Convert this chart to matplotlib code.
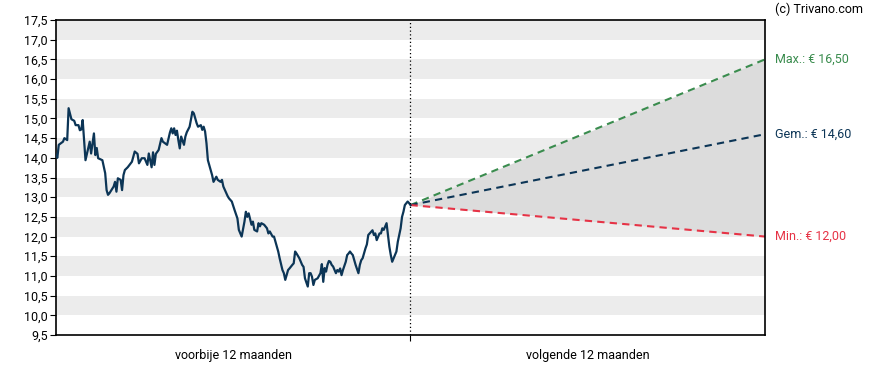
import matplotlib
matplotlib.use("Agg")
import matplotlib.pyplot as plt
import matplotlib.transforms as mtransforms


# ====================================
# Data
# ====================================

past_days = [
    0, 1, 2, 5, 6, 8, 9, 11, 13, 14, 16, 17, 18, 19, 21, 22, 24, 25, 27, 28,
    29, 30, 33, 35, 36, 37, 38, 41, 42, 43, 44, 46, 47, 48, 49, 51, 54, 56, 58, 59,
    61, 63, 65, 66, 68, 69, 70, 71, 73, 75, 76, 79, 81, 82, 83, 84, 85, 86, 87, 88,
    89, 91, 92, 93, 95, 97, 98, 100, 101, 103, 104, 105, 106, 107, 108, 110, 111, 112, 114, 115,
    117, 118, 119, 122, 123, 125, 127, 129, 130, 132, 134, 135, 136, 137, 139, 140, 141, 143, 144, 145,
    146, 148, 150, 151, 152, 154, 155, 156, 158, 159, 160, 161, 162, 163, 165, 166, 168, 169, 170, 171,
    173, 175, 176, 177, 179, 180, 181, 182, 183, 184, 186, 188, 189, 190, 191, 192, 193, 194, 195, 196,
    197, 199, 200, 201, 202, 203, 204, 206, 207, 208, 209, 210, 211, 212, 213, 215, 216, 217, 218, 220,
    221, 222, 223, 224, 225, 226, 227, 228, 230, 231, 232, 233, 235, 236, 237, 238, 239, 241, 242, 243,
    245, 246, 247, 248, 250, 251, 252
]

past_prices = [
    14.07, 14.00, 14.33, 14.41, 14.50, 14.45, 15.26, 14.98, 14.94, 14.83, 14.83, 14.70, 14.72, 14.96, 13.94, 14.10, 14.41, 14.11, 14.62, 14.07,
    14.25, 13.99, 13.94, 13.61, 13.18, 13.06, 13.10, 13.27, 13.39, 13.14, 13.48, 13.44, 13.18, 13.56, 13.69, 13.76, 13.90, 14.16, 14.10, 13.86,
    13.99, 13.99, 13.82, 14.11, 13.76, 14.14, 13.82, 14.10, 14.20, 14.50, 14.41, 14.33, 14.64, 14.75, 14.62, 14.75, 14.58, 14.69, 14.45, 14.24,
    14.54, 14.33, 14.54, 14.65, 14.79, 15.17, 15.13, 14.88, 14.79, 14.83, 14.71, 14.79, 14.67, 14.37, 13.94, 13.69, 13.56, 13.39, 13.52, 13.44,
    13.39, 13.44, 13.27, 13.03, 12.97, 12.89, 12.67, 12.46, 12.17, 12.00, 12.38, 12.63, 12.50, 12.59, 12.30, 12.38, 12.17, 12.13, 12.34, 12.26,
    12.34, 12.30, 12.21, 12.08, 12.13, 12.00, 12.00, 11.87, 11.62, 11.45, 11.30, 11.15, 11.07, 10.90, 11.15, 11.19, 11.28, 11.32, 11.62, 11.57,
    11.45, 11.28, 11.23, 10.94, 10.73, 11.07, 11.07, 10.98, 10.77, 10.90, 10.94, 11.07, 11.30, 10.85, 11.20, 11.11, 11.28, 11.38, 11.36, 11.28,
    11.24, 11.07, 11.15, 11.11, 11.19, 11.02, 11.15, 11.36, 11.53, 11.57, 11.62, 11.57, 11.53, 11.40, 11.28, 11.07, 11.28, 11.40, 11.45, 11.70,
    11.80, 12.04, 12.08, 12.12, 12.16, 12.04, 12.08, 11.91, 12.08, 12.08, 12.21, 12.17, 12.34, 12.04, 11.74, 11.53, 11.36, 11.53, 11.62, 11.87,
    12.21, 12.50, 12.63, 12.80, 12.89, 12.85, 12.80
]

forecast_days = [252, 504]
forecast_max = [12.80, 16.50]
forecast_avg = [12.80, 14.60]
forecast_min = [12.80, 12.00]

labels = {
    "max": "Max.: € 16,50",
    "avg": "Gem.: € 14,60",
    "min": "Min.: € 12,00",
}

y_ticks = [9.5 + 0.5 * i for i in range(17)]


# ====================================
# Colors
# ====================================

navy = "#0c3556"
green = "#3a8c4e"
red = "#e63346"
band = "#ececec"
cone = "#dcdcdc"


# ====================================
# Figure
# ====================================

plt.rcParams["font.family"] = ["Roboto", "DejaVu Sans"]

fig = plt.figure(figsize=(8.88, 3.70), dpi=100)
ax = fig.add_axes([0.063, 0.0946, 0.7985, 0.8513])

ax.set_xlim(0, 504)
ax.set_ylim(9.5, 17.5)

# alternating horizontal bands
for i in range(len(y_ticks) - 1):
    if i % 2 == 1:
        ax.axhspan(y_ticks[i], y_ticks[i + 1], color=band, lw=0, zorder=0)

# forecast cone
ax.fill_between(forecast_days, forecast_min, forecast_max, color=cone, lw=0, zorder=1)

ax.plot(forecast_days, forecast_max, color=green, lw=1.5, ls=(0, (3.5, 2.5)), zorder=2)
ax.plot(forecast_days, forecast_avg, color=navy, lw=1.5, ls=(0, (3.5, 2.5)), zorder=2)
ax.plot(forecast_days, forecast_min, color=red, lw=1.5, ls=(0, (3.5, 2.5)), zorder=2)

# price history
ax.plot(past_days, past_prices, color=navy, lw=1.6, zorder=3, solid_joinstyle="round")

ax.axvline(252, color="black", lw=0.9, ls=(0, (1, 2)), zorder=4)


# ====================================
# Axes styling
# ====================================

ax.set_yticks(y_ticks)
ax.set_yticklabels([f"{t:.1f}".replace(".", ",") for t in y_ticks])
ax.set_xticks([252])
ax.set_xticklabels([""])
ax.tick_params(axis="both", length=4, width=0.8, labelsize=9, colors="black", pad=2)

for side in ax.spines.values():
    side.set_linewidth(1.2)
    side.set_color("black")

trans = mtransforms.blended_transform_factory(ax.transData, ax.transAxes)
ax.text(126, -0.045, "voorbije 12 maanden", transform=trans, ha="center", va="top", fontsize=9)
ax.text(378, -0.045, "volgende 12 maanden", transform=trans, ha="center", va="top", fontsize=9)

for key, series, color in [
    ("max", forecast_max, green),
    ("avg", forecast_avg, navy),
    ("min", forecast_min, red),
]:
    ax.annotate(
        labels[key],
        xy=(forecast_days[-1], series[-1]),
        xytext=(7, 0),
        textcoords="offset points",
        ha="left",
        va="center",
        color=color,
        fontsize=9,
        annotation_clip=False,
    )

fig.text(775 / 888, 1 - 9 / 370, "(c) Trivano.com", ha="left", va="center", fontsize=9)

fig.savefig("out.png", dpi=100)
